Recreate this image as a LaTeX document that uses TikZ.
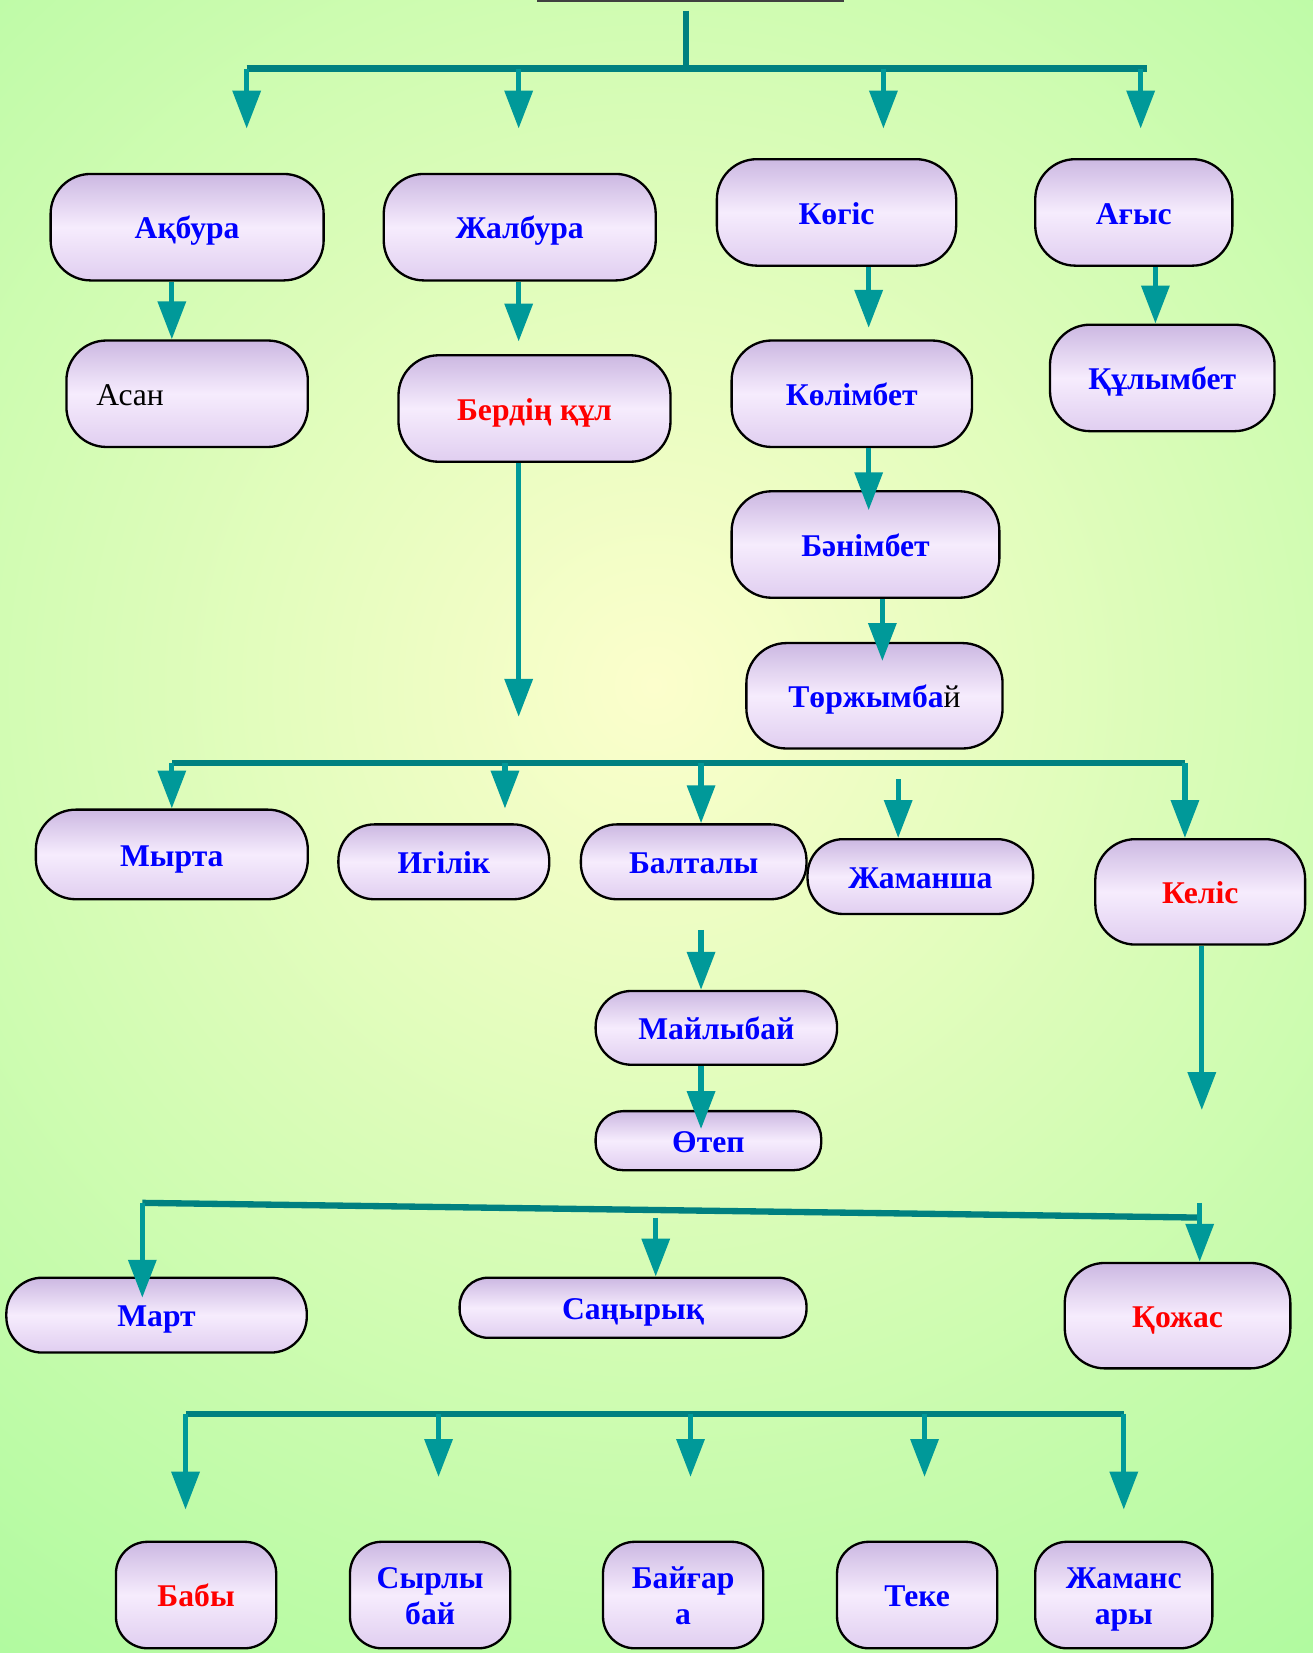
\documentclass[tikz,border=0pt]{standalone}
\usepackage{fontspec}
\setmainfont{Liberation Serif}
\usetikzlibrary{arrows.meta}
\definecolor{bgin}{RGB}{252,254,204}
\definecolor{bgout}{RGB}{174,250,158}
\definecolor{arrc}{RGB}{0,153,153}
\definecolor{barc}{RGB}{0,128,128}
\definecolor{lavA}{RGB}{204,184,226}
\definecolor{lavB}{RGB}{224,206,240}
\definecolor{lavC}{RGB}{246,236,253}
\definecolor{ublue}{RGB}{0,0,255}
\definecolor{ured}{RGB}{255,0,0}
\begin{document}
\begin{tikzpicture}[x=0.5pt,y=-0.5pt,
  box/.style={draw=black, line width=1.1pt, rounded corners=19pt,
    top color=lavA, bottom color=lavB, middle color=lavC,
    inner sep=0pt, align=center, text=ublue,
    text height=11pt, text depth=0pt,
    font=\fontsize{15}{17}\selectfont\bfseries},
  twoline/.style={text height=28pt, text depth=0pt, rounded corners=15pt},
  redtxt/.style={text=ured},
  arr/.style={draw=arrc, line width=2.5pt, -{Triangle[length=18pt,width=13pt]}},
  bar/.style={draw=barc, line width=3pt},
]
% background
\useasboundingbox (0,0) rectangle (1245,1568);
\fill[bgout] (0,0) rectangle (1245,1568);
\begin{scope}
  \clip (0,0) rectangle (1245,1568);
  \shade[inner color=bgin, outer color=bgout] (620,650) circle (1150);
\end{scope}

% partly visible root box
\node[draw=black!75, line width=1pt, minimum width=145pt, minimum height=40pt] (root) at (655,-39) {};

% level 1
\node[box, minimum width=129.5pt, minimum height=50.5pt] (akbura) at (177.5,215.5) {Ақбура};
\node[box, minimum width=129pt, minimum height=50.5pt] (zhalbura) at (493,215.5) {Жалбура};
\node[box, minimum width=113.5pt, minimum height=50.5pt] (kogis) at (793.5,201.5) {Көгіс};
\node[box, minimum width=93.5pt, minimum height=50.5pt] (agys) at (1075.5,201.5) {Ағыс};

\node[box, minimum width=114.5pt, minimum height=50.5pt, text=black, font=\fontsize{15}{17}\selectfont] (asan) at (177.5,373.5) {Асан\rule{54pt}{0pt}};
\node[box, redtxt, minimum width=129pt, minimum height=50.5pt] (berdin) at (507,387.5) {Бердің құл};
\node[box, minimum width=114pt, minimum height=50.5pt] (kolimbet) at (808,373.5) {Көлімбет};
\node[box, minimum width=106.5pt, minimum height=50.5pt] (kulymbet) at (1102.5,358.5) {Құлымбет};
\node[box, minimum width=127pt, minimum height=50.5pt] (banimbet) at (821,516.5) {Бәнімбет};
\node[box, minimum width=121.5pt, minimum height=50pt] (torzh) at (829.5,660) {Төржымба\textcolor{black}{\mdseries й}};

% level 2
\node[box, minimum width=129pt, minimum height=42.5pt] (myrta) at (163,810.5) {Мырта};
\node[box, rounded corners=17pt, minimum width=100pt, minimum height=35.5pt] (igilik) at (421,817.5) {Игілік};
\node[box, rounded corners=17pt, minimum width=107pt, minimum height=35.5pt] (baltaly) at (658,817.5) {Балталы};
\node[box, rounded corners=17pt, minimum width=107pt, minimum height=35.5pt] (zhamansha) at (873,831.5) {Жаманша};
\node[box, redtxt, minimum width=99.5pt, minimum height=50pt] (kelis) at (1138.5,846) {Келіс};
\node[box, rounded corners=17pt, minimum width=114.5pt, minimum height=35pt] (mailybai) at (679.5,975) {Майлыбай};
\node[box, rounded corners=13pt, minimum width=107pt, minimum height=28pt] (otep) at (672,1082) {Өтеп};

% level 3
\node[box, rounded corners=17pt, minimum width=142.5pt, minimum height=35.5pt] (mart) at (148.5,1247.5) {Март};
\node[box, rounded corners=13.5pt, minimum width=164.5pt, minimum height=28.5pt] (sanyryk) at (600.5,1240.5) {Саңырық};
\node[box, redtxt, minimum width=107pt, minimum height=50pt] (kozhas) at (1117,1248) {Қожас};

% level 4
\node[box, redtxt, rounded corners=15pt, minimum width=76pt, minimum height=50.5pt] (baby) at (186,1513) {Бабы};
\node[box, twoline, minimum width=76pt, minimum height=50.5pt] (syrly) at (408,1513) {Сырлы\\бай};
\node[box, twoline, minimum width=76pt, minimum height=50.5pt] (baigar) at (648,1513) {Байғар\\а};
\node[box, rounded corners=15pt, minimum width=76pt, minimum height=50.5pt] (teke) at (870,1513) {Теке};
\node[box, twoline, minimum width=84pt, minimum height=50.5pt] (zhamans) at (1066,1513) {Жаманс\\ары};

% ---- connectors ----
% bar 1
\coordinate (j1) at (651,65);
\draw[bar] ([xshift=-2pt,yshift=-4pt]root.south) -- (j1);
\draw[bar] (234,65) -- (1088,65);
\draw[arr] (234,65) -- (234,122);
\draw[arr] (492,65) -- (492,122);
\draw[arr] (838,65) -- (838,122);
\draw[arr] (1082,65) -- (1082,122);

% vertical chains
\draw[arr] (akbura.south -| 163,0) -- (asan.north -| 163,0);
\draw[arr] (zhalbura.south -| 492,0) -- (492,324);
\draw[arr] (kogis.south -| 824,0) -- (824,311);
\draw[arr] (agys.south -| 1096,0) -- (kulymbet.north -| 1096,0);
\draw[arr] (kolimbet.south -| 824,0) -- (824,484);
\draw[arr] (banimbet.south -| 837,0) -- (837,627);
\draw[arr] (berdin.south -| 492,0) -- (492,680);

% bar 2
\draw[bar] (163,724) -- (1124,724);
\draw[arr] (163,724) -- (myrta.north -| 163,0);
\draw[arr] (479,724) -- (479,767);
\draw[arr] (665,724) -- (baltaly.north -| 665,0);
\draw[arr] (852,739) -- (zhamansha.north -| 852,0);
\draw[arr] (1124,724) -- (kelis.north -| 1124,0);
\draw[arr] (665,882) -- (mailybai.north -| 665,0);
\draw[arr] (mailybai.south -| 665,0) -- (665,1071);
\draw[arr] (kelis.south -| 1140,0) -- (1140,1053);

% bar 3
\draw[bar] (135,1141) -- (1140,1155);
\draw[arr] (135,1141) -- (135,1231);
\draw[arr] (622,1155) -- (sanyryk.north -| 622,0);
\draw[arr] (1138,1141) -- (kozhas.north -| 1138,0);

% bar 4
\draw[bar] (176,1341) -- (1066,1341);
\draw[arr] (176,1341) -- (176,1432);
\draw[arr] (416,1341) -- (416,1401);
\draw[arr] (655,1341) -- (655,1401);
\draw[arr] (877,1341) -- (877,1401);
\draw[arr] (1066,1341) -- (1066,1432);
\end{tikzpicture}
\end{document}
